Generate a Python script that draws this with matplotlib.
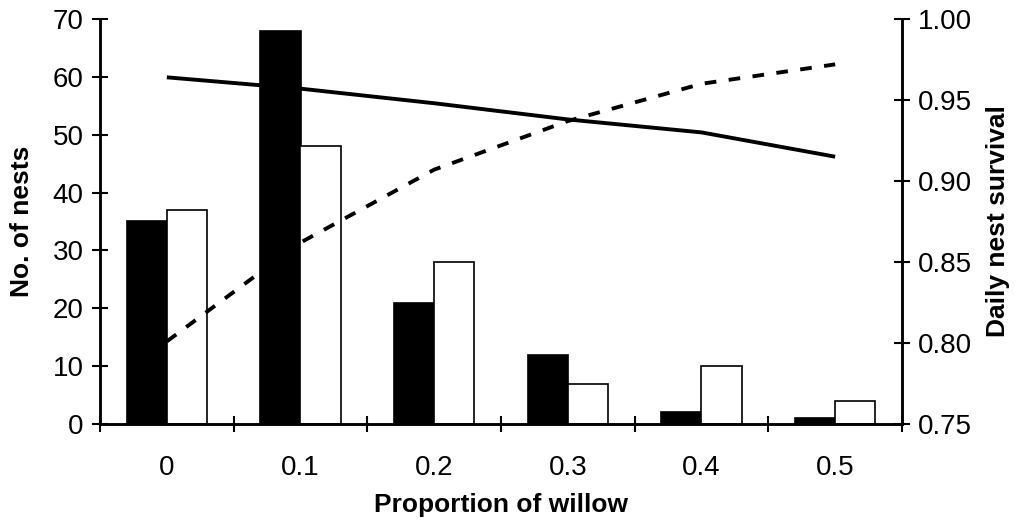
import numpy as np
import matplotlib
matplotlib.use('Agg')
from matplotlib import pyplot as plt

plt.rcParams['font.family'] = ['Liberation Sans', 'DejaVu Sans']

categories = ['0', '0.1', '0.2', '0.3', '0.4', '0.5']
nests_black = [35, 68, 21, 12, 2, 1]
nests_white = [37, 48, 28, 7, 10, 4]
survival_solid = [0.964, 0.957, 0.948, 0.938, 0.930, 0.915]
survival_dashed = [0.801, 0.862, 0.907, 0.937, 0.960, 0.972]

x = np.arange(len(categories))
bar_w = 0.3

fig = plt.figure(figsize=(10.15, 5.25), dpi=100)
ax = fig.add_axes([100 / 1015, 101 / 525, 802 / 1015, 405 / 525])
ax2 = ax.twinx()

ax.bar(x - bar_w / 2, nests_black, bar_w, color='black', edgecolor='black', linewidth=1.2)
ax.bar(x + bar_w / 2, nests_white, bar_w, color='white', edgecolor='black', linewidth=1.2)

ax2.plot(x, survival_solid, color='black', linewidth=2.8, solid_capstyle='butt')
ax2.plot(x, survival_dashed, color='black', linewidth=2.8, dashes=(3, 3.2))

ax.set_xlim(-0.5, len(categories) - 0.5)
ax.set_ylim(0, 70)
ax2.set_ylim(0.75, 1.00)
ax.set_yticks(np.arange(0, 71, 10))
ax2.set_yticks(np.arange(0.75, 1.001, 0.05))
ax2.set_yticklabels([f'{v:.2f}' for v in np.arange(0.75, 1.001, 0.05)])

# boundary ticks without labels, category labels on minor ticks
ax.set_xticks(np.arange(-0.5, len(categories), 1.0))
ax.set_xticklabels([])
ax.set_xticks(x, minor=True)
ax.set_xticklabels(categories, minor=True)
ax.tick_params(axis='x', which='major', direction='inout', length=11, width=1.5)
ax.tick_params(axis='x', which='minor', length=0, pad=22, labelsize=20)

ax.tick_params(axis='y', direction='inout', length=11.5, width=1.5, labelsize=20, pad=6)
ax2.tick_params(axis='y', direction='inout', length=11.5, width=1.5, labelsize=20, pad=6)

for a in (ax, ax2):
    a.spines['top'].set_visible(False)
    for s in ('left', 'right', 'bottom'):
        a.spines[s].set_linewidth(1.8)

ax.set_xlabel('Proportion of willow', fontsize=19, fontweight='bold')
ax.xaxis.set_label_coords(0.5, -0.17)
ax.set_ylabel('No. of nests', fontsize=19, fontweight='bold')
ax.yaxis.set_label_coords(-0.082, 0.5)
ax2.set_ylabel('Daily nest survival', fontsize=19, fontweight='bold', rotation=90)
ax2.yaxis.set_label_coords(1.105, 0.5)

fig.savefig('out.png', dpi=100)
